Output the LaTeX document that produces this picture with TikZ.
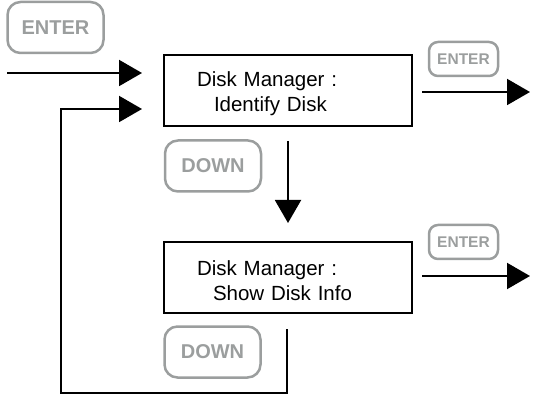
\documentclass[tikz,border=0pt]{standalone}
\usepackage{fontspec}
\setmainfont{Liberation Sans}
\usetikzlibrary{positioning}
\usetikzlibrary{arrows.meta}

\definecolor{keygray}{RGB}{155,158,158}

\begin{document}
\begin{tikzpicture}
	[x=1pt, y=-1pt, line width=2pt,
	screen/.style = {draw, rectangle, minimum width=248pt, minimum height=71pt, text width=182pt, inner xsep=33pt, text height=21pt, align=left, font=\fontsize{20.5}{24.5}\selectfont},
	key/.style = {draw=keygray, text=keygray, line width=2.5pt, rounded corners=13pt, minimum width=96pt, minimum height=51pt, inner sep=0pt, font=\bfseries\fontsize{20}{20}\selectfont},
	smallkey/.style = {key, rounded corners=9pt, minimum width=69pt, minimum height=34pt, font=\bfseries\fontsize{15.5}{16}\selectfont},
	arr/.style = {-{Triangle[length=23pt,width=26pt]}}]
	\useasboundingbox (0,0) rectangle (533,398);
	\node[screen] (identify) at (288,90.5) {Disk Manager :\\\hspace*{17pt}Identify Disk};
	\node[screen] (info) [below = 114pt of identify] {Disk Manager :\\\hspace*{16pt}Show Disk Info};
	\node[key] (enter) at (55.5,27.5) {ENTER};
	\node[key] (down1) at (213,166) {DOWN};
	\node[key] (down2) at (212.5,352) {DOWN};
	\node[smallkey] (enter1) at (463.5,59) {ENTER};
	\node[smallkey] (enter2) at (463.5,242) {ENTER};
	\coordinate (start) at (7,73);
	\coordinate (out1) at (530,92);
	\coordinate (out2) at (530,276);
	\coordinate (corner) at (61,393);
	\draw[arr] (start) -- ([xshift=-21pt]identify.west |- start);
	\draw[arr] ([xshift=9pt]identify.east |- out1) -- (out1);
	\draw[arr] ([xshift=9pt]info.east |- out2) -- (out2);
	\draw[arr] ([yshift=-14pt]identify.south) -- ([yshift=18pt]info.north);
	\draw[arr] ([xshift=-1pt, yshift=-15pt]info.south) |- (corner) |- ([xshift=-21pt, yshift=-18.5pt]identify.west);
\end{tikzpicture}
\end{document}
